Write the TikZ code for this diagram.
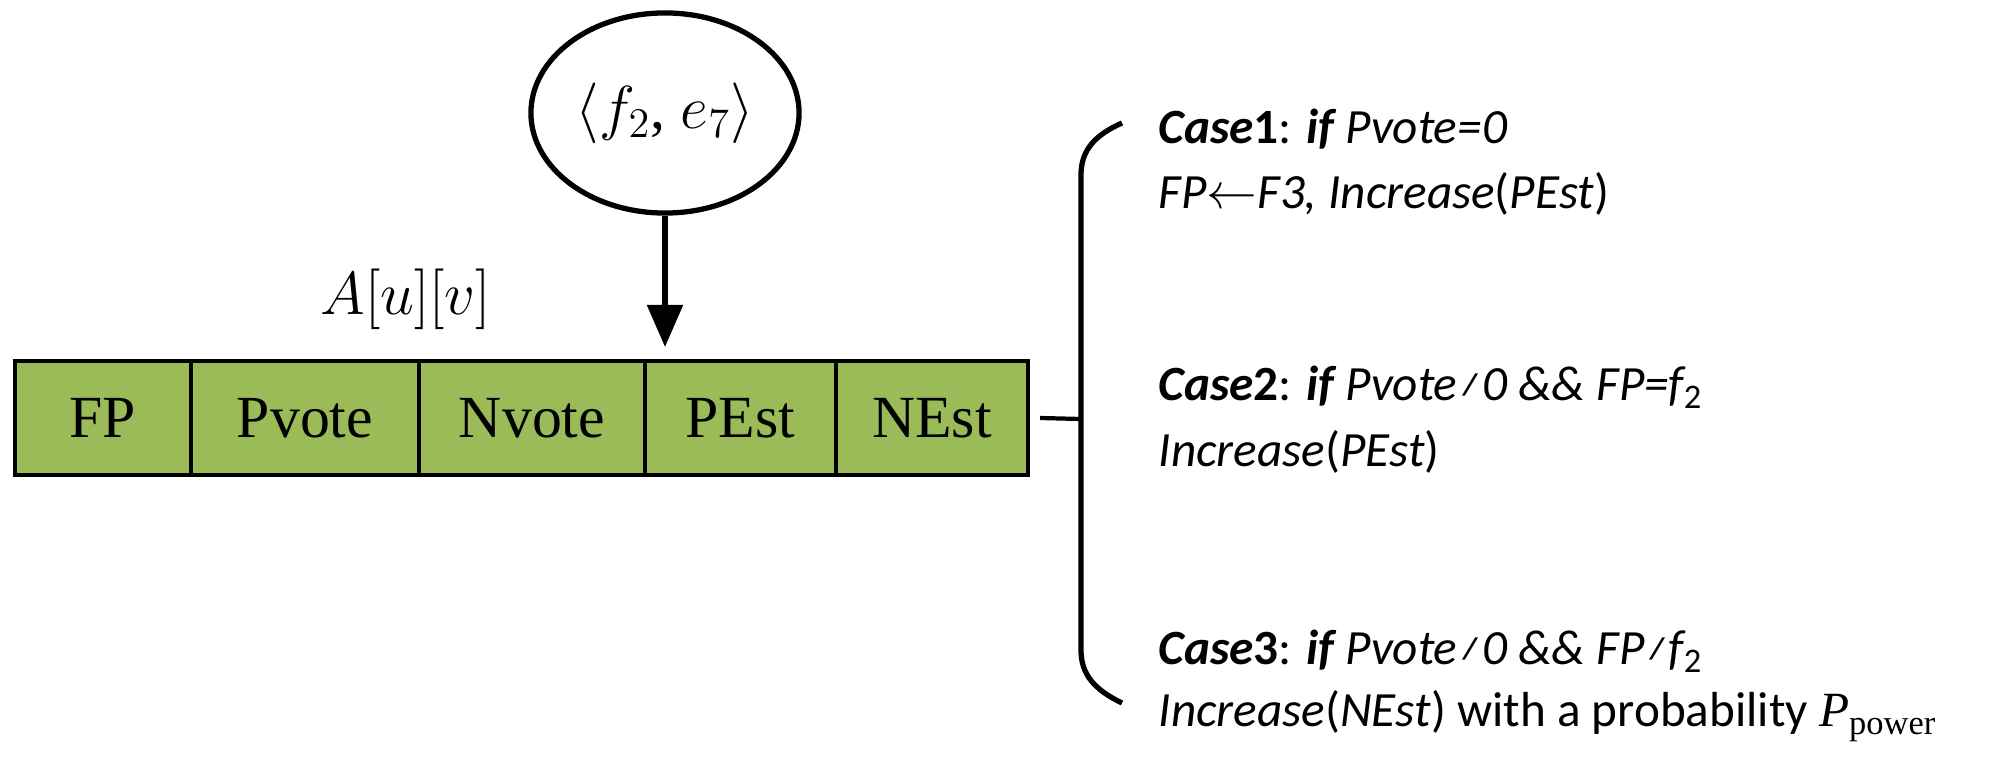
\documentclass[tikz,border=0pt]{standalone}
\usepackage{fontspec}
\setmainfont{Liberation Serif}
\newfontfamily\calfam{Carlito}
\usetikzlibrary{arrows.meta,shapes.geometric}
\begin{document}
\begin{tikzpicture}[x=0.01cm,y=-0.01cm,
  cell/.style={draw,line width=1.2pt,fill=cellgreen,minimum height=1.14cm,inner sep=0pt,font=\fontsize{17}{20}\selectfont},
  ct/.style={anchor=west,inner sep=0pt,font=\calfam\itshape\fontsize{14}{16}\selectfont}]
\definecolor{cellgreen}{HTML}{9BBB59}
\useasboundingbox (0,0) rectangle (2011,758);
\node[cell,minimum width=1.76cm] (fp) at (103,418) {FP};
\node[cell,minimum width=2.28cm] (pv) at (305,418) {Pvote};
\node[cell,minimum width=2.26cm] (nv) at (532,418) {Nvote};
\node[cell,minimum width=1.91cm] (pe) at (740.5,418) {PEst};
\node[cell,minimum width=1.92cm] (ne) at (932,418) {NEst};
\node[draw,line width=1.5pt,ellipse,minimum width=2.68cm,minimum height=2.0cm,inner sep=0pt,font=\fontsize{17}{20}\selectfont] (el) at (665,113) {$\langle f_2$, $e_7\rangle$};
\coordinate (at) at (665,347);
\draw[line width=1.5pt,-{Triangle[length=12pt,width=10pt]}] (el) -- (at);
\node[font=\fontsize{17}{20}\selectfont] (a) at (406,299) {$A[u][v]$};
\coordinate (b) at (1081,419);
\draw[line width=1.2pt] (ne.east) ++(10,0) -- (b);
\draw[line width=1.5pt] (1122,123) .. controls (1095,135) and (1081,150) .. (1081,175) -- (1081,650) .. controls (1081,675) and (1095,690) .. (1122,703);
\node[ct] (c1) at (1158,129) {\textbf{Case}\upshape\bfseries 1\mdseries: \bfseries\itshape if \mdseries Pvote=0};
\node[ct] (c1b) at (1158,194) {FP$\leftarrow$F3, Increase\upshape(\itshape PEst\upshape)};
\node[ct] (c2) at (1158,387) {\textbf{Case}\upshape\bfseries 2\mdseries: \bfseries\itshape if \mdseries Pvote≠0 \&\& FP=f\textsubscript{\upshape 2}};
\node[ct] (c2b) at (1158,452) {Increase\upshape(\itshape PEst\upshape)};
\node[ct] (c3) at (1158,651) {\textbf{Case}\upshape\bfseries 3\mdseries: \bfseries\itshape if \mdseries Pvote≠0 \&\& FP≠f\textsubscript{\upshape 2}};
\node[ct] (c3b) at (1158,716) {Increase\upshape(\itshape NEst\upshape) with a probability \rmfamily\itshape P\textsubscript{\upshape power}};
\end{tikzpicture}
\end{document}
